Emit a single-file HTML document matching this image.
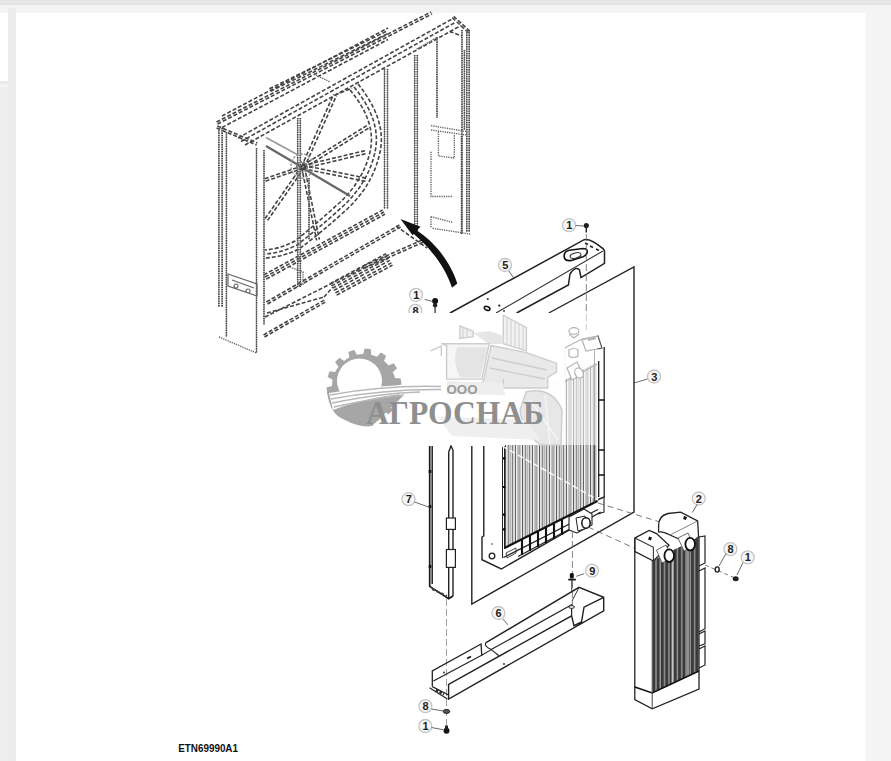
<!DOCTYPE html>
<html><head><meta charset="utf-8">
<style>
html,body{margin:0;padding:0;width:891px;height:761px;overflow:hidden;background:#fff;font-family:"Liberation Sans",sans-serif;}
#top1{position:absolute;left:0;top:0;width:891px;height:7px;background:linear-gradient(#dfdfdf 0px,#e9e9e9 1.5px,#e8e8e8 2.5px,#dfdfdf 4px,#f6f6f6 6px);}
#top2{position:absolute;left:0;top:7px;width:891px;height:6px;background:#f3f3f3;}
#lbox{position:absolute;left:0;top:13px;width:8px;height:68px;background:#fff;}
#lbot{position:absolute;left:0;top:81px;width:8px;height:680px;background:linear-gradient(#e9e9e9 0px,#e9e9e9 2.5px,#f3f3f3 3px,#f3f3f3 6px,#eeeeee 6.5px);}
#lcol{position:absolute;left:8px;top:8px;width:8px;height:753px;background:#ececec;}
#rcol{position:absolute;left:865px;top:8px;width:26px;height:753px;background:#f4f4f4;}
#rcol2{position:absolute;left:865px;top:15px;width:7px;height:746px;background:linear-gradient(90deg,#fafafa 0,#f3f3f3 1.5px,#f5f5f5 4px,#f6f6f6 6px,#f4f4f4 7px);}
svg{position:absolute;left:0;top:0;}
</style></head><body>
<div id="top1"></div><div id="top2"></div><div id="lbox"></div><div id="lbot"></div><div id="lcol"></div><div id="rcol"></div><div id="rcol2"></div>
<svg width="891" height="761" viewBox="0 0 891 761">
<g id="shroud" fill="none">
<path d="M222.0 116.0 L388.0 28.0" stroke="#444" stroke-width="1.6" stroke-dasharray="4 2"/>
<path d="M216.5 122.0 L431.1 11.9" stroke="#444" stroke-width="1.6" stroke-dasharray="4 2"/>
<path d="M217.5 124.0 L432.1 13.9" stroke="#444" stroke-width="1.6" stroke-dasharray="4 2"/>
<path d="M222.0 127.5 L388.0 39.5" stroke="#444" stroke-width="1.6" stroke-dasharray="4 2"/>
<path d="M269.4 88.8 L387.4 30.8" stroke="#444" stroke-width="1.6" stroke-dasharray="4 2"/>
<path d="M270.6 91.2 L388.6 33.2" stroke="#444" stroke-width="1.6" stroke-dasharray="4 2"/>
<path d="M238.0 138.0 L453.0 18.5" stroke="#444" stroke-width="1.6" stroke-dasharray="4 2"/>
<path d="M241.0 141.5 L456.0 22.0" stroke="#444" stroke-width="1.6" stroke-dasharray="4 2"/>
<path d="M245.0 145.0 L461.0 25.5" stroke="#444" stroke-width="1.6" stroke-dasharray="4 2"/>
<path d="M217.4 126.0 L257.4 143.0" stroke="#444" stroke-width="1.6" stroke-dasharray="4 2"/>
<path d="M216.6 128.0 L256.6 145.0" stroke="#444" stroke-width="1.6" stroke-dasharray="4 2"/>
<path d="M453.7 16.3 L470.5 31.8" stroke="#444" stroke-width="1.6" stroke-dasharray="4 2"/>
<path d="M452.3 17.7 L469.1 33.2" stroke="#444" stroke-width="1.6" stroke-dasharray="4 2"/>
<path d="M449.6 31.4 L462.0 36.0" stroke="#444" stroke-width="1.6" stroke-dasharray="4 2"/>
<path d="M263.8 274.9 L382.8 209.9" stroke="#444" stroke-width="1.6" stroke-dasharray="4 2"/>
<path d="M265.0 277.0 L384.0 212.0" stroke="#444" stroke-width="1.6" stroke-dasharray="4 2"/>
<path d="M266.2 279.1 L385.2 214.1" stroke="#444" stroke-width="1.6" stroke-dasharray="4 2"/>
<path d="M266.4 302.0 L399.4 225.0" stroke="#444" stroke-width="1.6" stroke-dasharray="4 2"/>
<path d="M267.6 304.0 L400.6 227.0" stroke="#444" stroke-width="1.6" stroke-dasharray="4 2"/>
<path d="M363.5 265.9 L422.5 239.9" stroke="#444" stroke-width="1.6" stroke-dasharray="4 2"/>
<path d="M364.5 268.1 L423.5 242.1" stroke="#444" stroke-width="1.6" stroke-dasharray="4 2"/>
<path d="M265.0 317.0 L364.0 267.0" stroke="#444" stroke-width="1.6" stroke-dasharray="4 2"/>
<path d="M330.2 283.6 L386.2 253.6" stroke="#444" stroke-width="1.6" stroke-dasharray="4 2"/>
<path d="M331.4 285.9 L387.4 255.9" stroke="#444" stroke-width="1.6" stroke-dasharray="4 2"/>
<path d="M332.6 288.1 L388.6 258.1" stroke="#444" stroke-width="1.6" stroke-dasharray="4 2"/>
<path d="M333.8 290.4 L389.8 260.4" stroke="#444" stroke-width="1.6" stroke-dasharray="4 2"/>
<path d="M335.4 292.9 L391.4 262.9" stroke="#444" stroke-width="1.6" stroke-dasharray="4 2"/>
<path d="M336.6 295.1 L392.6 265.1" stroke="#444" stroke-width="1.6" stroke-dasharray="4 2"/>
<path d="M396.0 226.0 L427.0 248.0" stroke="#444" stroke-width="1.6" stroke-dasharray="4 2"/>
<path d="M267.0 313.0 L324.0 297.0" stroke="#444" stroke-width="1.6" stroke-dasharray="4 2"/>
<path d="M263.5 335.0 L324.5 300.0" stroke="#444" stroke-width="1.6" stroke-dasharray="4 2"/>
<path d="M264.5 337.0 L325.5 302.0" stroke="#444" stroke-width="1.6" stroke-dasharray="4 2"/>
<path d="M324.0 297.0 L333.0 287.0" stroke="#444" stroke-width="1.6" stroke-dasharray="4 2"/>
<path d="M301.6 166.4 L333.6 94.4" stroke="#444" stroke-width="1.6" stroke-dasharray="4 2"/>
<path d="M304.4 167.6 L336.4 95.6" stroke="#444" stroke-width="1.6" stroke-dasharray="4 2"/>
<path d="M302.2 165.7 L368.2 124.7" stroke="#444" stroke-width="1.6" stroke-dasharray="4 2"/>
<path d="M303.8 168.3 L369.8 127.3" stroke="#444" stroke-width="1.6" stroke-dasharray="4 2"/>
<path d="M302.7 165.5 L365.7 150.5" stroke="#444" stroke-width="1.6" stroke-dasharray="4 2"/>
<path d="M303.3 168.5 L366.3 153.5" stroke="#444" stroke-width="1.6" stroke-dasharray="4 2"/>
<path d="M303.3 165.4 L367.3 178.4" stroke="#444" stroke-width="1.6" stroke-dasharray="4 2"/>
<path d="M302.7 168.6 L366.7 181.6" stroke="#444" stroke-width="1.6" stroke-dasharray="4 2"/>
<path d="M304.4 166.7 L319.4 239.7" stroke="#444" stroke-width="1.6" stroke-dasharray="4 2"/>
<path d="M301.6 167.3 L316.6 240.3" stroke="#444" stroke-width="1.6" stroke-dasharray="4 2"/>
<path d="M304.2 167.9 L267.2 220.9" stroke="#444" stroke-width="1.6" stroke-dasharray="4 2"/>
<path d="M301.8 166.1 L264.8 219.1" stroke="#444" stroke-width="1.6" stroke-dasharray="4 2"/>
<path d="M303.4 168.2 L265.4 181.2" stroke="#444" stroke-width="1.6" stroke-dasharray="4 2"/>
<path d="M302.6 165.8 L264.6 178.8" stroke="#444" stroke-width="1.6" stroke-dasharray="4 2"/>
<path d="M335.0 95.0 L352.0 88.0" stroke="#444" stroke-width="1.6" stroke-dasharray="4 2"/>
<path d="M358 84 Q387 120 380 152 Q373 186 345 211 Q321 233 299 249 Q283 257 265 258" stroke="#444" stroke-width="1.6" stroke-dasharray="4 2"/>
<path d="M354 87 Q382 121 375 152 Q368 184 341 208 Q318 229 297 245 Q281 253 265 254" stroke="#444" stroke-width="1.6" stroke-dasharray="4 2"/>
<path d="M350 90 Q377 122 370 152 Q363 182 337 205 Q315 225 295 241 Q280 249 265 250" stroke="#444" stroke-width="1.6" stroke-dasharray="4 2"/>
<path d="M218.9 128.0 V307.0" stroke="#9a9a9a" stroke-width="1"/>
<path d="M218.9 128.0 V307.0" stroke="#444" stroke-width="1.6" stroke-dasharray="1.3 1"/>
<path d="M222.1 128.0 V307.0" stroke="#9a9a9a" stroke-width="1"/>
<path d="M222.1 128.0 V307.0" stroke="#444" stroke-width="1.6" stroke-dasharray="1.3 1"/>
<path d="M226.4 132.0 V337.0" stroke="#9a9a9a" stroke-width="1"/>
<path d="M226.4 132.0 V337.0" stroke="#444" stroke-width="1.6" stroke-dasharray="1.3 1"/>
<path d="M256.5 148.0 V353.0" stroke="#9a9a9a" stroke-width="1"/>
<path d="M256.5 148.0 V353.0" stroke="#444" stroke-width="1.6" stroke-dasharray="1.3 1"/>
<path d="M264.0 150.0 V325.0" stroke="#9a9a9a" stroke-width="1"/>
<path d="M264.0 150.0 V325.0" stroke="#444" stroke-width="1.6" stroke-dasharray="1.3 1"/>
<path d="M297.7 118.0 V287.0" stroke="#9a9a9a" stroke-width="1"/>
<path d="M297.7 118.0 V287.0" stroke="#444" stroke-width="1.6" stroke-dasharray="1.3 1"/>
<path d="M300.3 118.0 V287.0" stroke="#9a9a9a" stroke-width="1"/>
<path d="M300.3 118.0 V287.0" stroke="#444" stroke-width="1.6" stroke-dasharray="1.3 1"/>
<path d="M384.5 69.0 V209.0" stroke="#9a9a9a" stroke-width="1"/>
<path d="M384.5 69.0 V209.0" stroke="#444" stroke-width="1.6" stroke-dasharray="1.3 1"/>
<path d="M387.5 69.0 V209.0" stroke="#9a9a9a" stroke-width="1"/>
<path d="M387.5 69.0 V209.0" stroke="#444" stroke-width="1.6" stroke-dasharray="1.3 1"/>
<path d="M414.7 55.0 V232.0" stroke="#9a9a9a" stroke-width="1"/>
<path d="M414.7 55.0 V232.0" stroke="#444" stroke-width="1.6" stroke-dasharray="1.3 1"/>
<path d="M417.3 55.0 V232.0" stroke="#9a9a9a" stroke-width="1"/>
<path d="M417.3 55.0 V232.0" stroke="#444" stroke-width="1.6" stroke-dasharray="1.3 1"/>
<path d="M437.0 37.0 V118.0" stroke="#9a9a9a" stroke-width="1"/>
<path d="M437.0 37.0 V118.0" stroke="#444" stroke-width="1.6" stroke-dasharray="1.3 1"/>
<path d="M464.4 50.0 V130.0" stroke="#9a9a9a" stroke-width="1"/>
<path d="M464.4 50.0 V130.0" stroke="#444" stroke-width="1.6" stroke-dasharray="1.3 1"/>
<path d="M461.5 136.0 V234.0" stroke="#9a9a9a" stroke-width="1"/>
<path d="M461.5 136.0 V234.0" stroke="#444" stroke-width="1.6" stroke-dasharray="1.3 1"/>
<path d="M462.0 30.0 V232.0" stroke="#9a9a9a" stroke-width="1"/>
<path d="M462.0 30.0 V232.0" stroke="#444" stroke-width="1.6" stroke-dasharray="1.3 1"/>
<path d="M466.8 30.0 V232.0" stroke="#9a9a9a" stroke-width="1"/>
<path d="M466.8 30.0 V232.0" stroke="#444" stroke-width="1.6" stroke-dasharray="1.3 1"/>
<path d="M469.2 30.0 V232.0" stroke="#9a9a9a" stroke-width="1"/>
<path d="M469.2 30.0 V232.0" stroke="#444" stroke-width="1.6" stroke-dasharray="1.3 1"/>
<path d="M219 337 L256.5 353" stroke="#666" stroke-width="1.4" stroke-dasharray="1.3 1"/>
<path d="M432.6 228.3 L470.2 234" stroke="#666" stroke-width="1.4" stroke-dasharray="1.3 1"/>
<path d="M431 125.6 L466 131.4" stroke="#666" stroke-width="1.4" stroke-dasharray="1.3 1"/>
<path d="M431 130 L466 135" stroke="#666" stroke-width="1.4" stroke-dasharray="1.3 1"/>
<path d="M438.4 131.4 V156 L454.3 158 V135" stroke="#666" stroke-width="1.4" stroke-dasharray="1.3 1"/>
<path d="M431 151.7 V196.5 L453 196.5" stroke="#666" stroke-width="1.4" stroke-dasharray="1.3 1"/>
<path d="M431 216.7 L453 222.5 M431 216.7 V228" stroke="#666" stroke-width="1.4" stroke-dasharray="1.3 1"/>
<path d="M416.7 49 L437 37.4" stroke="#666" stroke-width="1.4" stroke-dasharray="1.3 1"/>
<path d="M290 267 L303 272 V285" stroke="#666" stroke-width="1.4" stroke-dasharray="1.3 1"/>
<path d="M316 75 L330 82" stroke="#666" stroke-width="1.4" stroke-dasharray="1.3 1"/>
<path d="M228 274 L257 284 V296 L228 286 Z M232 280 L254 288 M236 284 a2 2 0 1 0 0.1 0 M248 289 a2 2 0 1 0 0.1 0" stroke="#666" stroke-width="1.2"/>
<path d="M266 146 L300 166" stroke="#666" stroke-width="2.2"/>
<path d="M306 170 L350 196" stroke="#666" stroke-width="2.2"/>
<circle cx="302" cy="167" r="5" stroke="#777" stroke-width="2" stroke-dasharray="2 1"/>
<ellipse cx="302" cy="166" rx="11" ry="12" stroke="#8a8a8a" stroke-width="1.3" stroke-dasharray="2.5 1.5"/>
<path d="M266 137.5 L298 155" stroke="#999" stroke-width="1.6"/>
<path d="M309.0 178.0 V240.0" stroke="#9a9a9a" stroke-width="1"/>
<path d="M309.0 178.0 V240.0" stroke="#444" stroke-width="1.6" stroke-dasharray="1.3 1"/>
</g>
<g id="parts" fill="none">
<defs>
<pattern id="fins" patternUnits="userSpaceOnUse" width="3.4" height="10" x="505" y="0">
<rect x="0" y="0" width="3.4" height="10" fill="#f2f2f2"/>
<rect x="0" y="0" width="0.85" height="10" fill="#4a4a4a"/>
<rect x="1.8" y="0" width="0.7" height="10" fill="#a8a8a8"/>
</pattern>
<pattern id="cfins" patternUnits="userSpaceOnUse" width="4.3" height="10" x="652.4" y="0">
<rect x="0" y="0" width="4.3" height="10" fill="#3a3a3a"/>
<rect x="3.0" y="0" width="1.1" height="10" fill="#b5b5b5"/>
</pattern>
</defs>
<!-- panel 3 gasket sheet -->
<path d="M548.8 313 L634 267 V512 L471.8 604 V446" stroke="#222" stroke-width="1.4"/>
<!-- part 5 beam -->
<path d="M450 313 L584.2 239.7 Q590 238 603 248.6 L604.5 250.8 V263.4 L581 277.6 L579.4 269.7 Q575 266 570 274 L568.4 285 L516.5 313" stroke="#222" stroke-width="1.5"/>
<path d="M496 313 L603 251" stroke="#333" stroke-width="1.1"/>
<path d="M564.2 255 Q565 251 569.4 250.3 L583 248.5 Q587.5 248.5 587.3 252 Q586.5 255.5 583 256.8 L571.5 260.4 Q565 261.5 564.2 257 Z" stroke="#111" stroke-width="1.6"/>
<ellipse cx="575.5" cy="255.5" rx="5.5" ry="2.6" transform="rotate(-15 575.5 255.5)" stroke="#333" stroke-width="1.1"/>
<path d="M585 243 L588 244.5 M590 246 L593 247.5 M596 249 L599 250.5" stroke="#222" stroke-width="1.6"/>
<circle cx="487.8" cy="299" r="1" fill="#333"/><circle cx="499.3" cy="305.7" r="1.1" fill="#222"/><circle cx="504" cy="311" r="0.9" fill="#333"/>
<ellipse cx="487.1" cy="308.4" rx="3" ry="1.8" transform="rotate(25 487.1 308.4)" stroke="#111" stroke-width="1.5"/>
<!-- radiator fins -->
<polygon points="505,380 564,380 597,362 597,501.4 505,548" fill="url(#fins)" stroke="none"/>
<path d="M483.8 446 V535.8 L482 537 V559.7 L501.3 569 L600.7 512" stroke="#222" stroke-width="1.4"/>
<path d="M502.5 446 V558 M504.5 446 V549" stroke="#222" stroke-width="1"/>
<path d="M503 458.4 h2.5 M503 487 h2.5 M503 514.6 h2.5 M503 529.3 h2.5" stroke="#111" stroke-width="2.2"/>
<path d="M504.5 548 L597.5 501" stroke="#111" stroke-width="2.2"/>
<path d="M503.5 557.5 L598 509.5" stroke="#222" stroke-width="1.3"/>
<path d="M518 556.5 L569 529.5" stroke="#222" stroke-width="1.3"/>
<path d="M522 540 V555 M530 536 V551 M538 532 V547 M546 528 V543 M554 524 V539 M562 520 V535" stroke="#111" stroke-width="2.1"/>
<path d="M506 553 L516 548 V553 L507 558 Z" stroke="#333" stroke-width="0.9"/>
<circle cx="492" cy="556" r="2.8" stroke="#222" stroke-width="1.3"/>
<circle cx="492" cy="544" r="0.8" fill="#333"/>
<path d="M594.5 345 V503" stroke="#444" stroke-width="0.9"/>
<path d="M598.7 361 V497 M604.2 347 V497 L598.7 499" stroke="#222" stroke-width="1.3"/>
<path d="M598.7 400 h5.5 M598.7 450 h5.5 M598.7 475 h5.5" stroke="#111" stroke-width="1.6"/>

<path d="M596 501 L604 497 V512 L598 514" stroke="#222" stroke-width="1.1"/>
<!-- radiator top (in watermark) -->
<g stroke="#555" stroke-width="1.2" fill="none">
<path d="M564.5 382 V348 L581.8 339 L598 336"/>
<path d="M564.5 382 L597 364"/>
<ellipse cx="573.9" cy="331" rx="5" ry="3.3" fill="#fff"/>
<path d="M569 334 L573.9 338 L579 334"/>
<path d="M569 350 V356 Q573.5 359 578 356 V350 Q573.5 347 569 350 Z" fill="#fff"/>
<path d="M567 368 L577 362 L583 374 L572 380 Z" fill="#fff"/>
<ellipse cx="579" cy="373" rx="4" ry="5.3" fill="#fff" transform="rotate(-25 579 373)"/>
<path d="M582 340 L598 336 L602 348 L586 351 Z" fill="#fff"/>
<path d="M588 340 L596 338" stroke-width="2.2"/>
</g>
<!-- outlet pipe -->
<path d="M569 517 L584 509 L592 514 V525 L577 533 L569 530 Z" fill="#fff" stroke="#222" stroke-width="1.1"/>
<path d="M576 518 L585 516 L587 528 L578 531 Z" fill="#fff" stroke="#222" stroke-width="1"/>
<ellipse cx="586" cy="523" rx="4.2" ry="5.2" fill="#fff" stroke="#111" stroke-width="1.5"/>
<!-- dashed leader lines -->
<path d="M502 446 L598 500" stroke="#fff" stroke-width="1.6" stroke-dasharray="6 3" opacity="0.85"/>
<path d="M598 503 L660 522" stroke="#555" stroke-width="0.8" stroke-dasharray="6 4"/>
<path d="M588 527 L634 548" stroke="#555" stroke-width="0.8" stroke-dasharray="6 4"/>
<path d="M586.3 234 V330" stroke="#666" stroke-width="0.8" stroke-dasharray="7 3"/>
<path d="M572.4 531 V610" stroke="#666" stroke-width="0.8" stroke-dasharray="7 3"/>
<path d="M446.5 599 V725" stroke="#888" stroke-width="0.8" stroke-dasharray="7 3"/>
<path d="M705 565 L735 578" stroke="#555" stroke-width="0.8" stroke-dasharray="4 3"/>
<!-- bolt 1 top -->
<circle cx="586.3" cy="225.5" r="2.6" fill="#222"/>
<path d="M586.3 227 V232.5" stroke="#222" stroke-width="1.4"/>
<!-- part 7 side strip -->
<path d="M429.7 446 V586.4 L448.7 598.7 L453 596" stroke="#1a1a1a" stroke-width="1.7"/>
<path d="M432.2 446 V584" stroke="#222" stroke-width="1.5"/>
<path d="M448.7 452 V598 M453 450 V596 M448.7 452 L451 446 L453 450" stroke="#222" stroke-width="1.4"/>
<rect x="446.4" y="518" width="9" height="11.4" fill="#fff" stroke="#222" stroke-width="1.2"/>
<rect x="446.4" y="549.5" width="9" height="17.9" fill="#fff" stroke="#222" stroke-width="1.2"/>
<path d="M430 470 V473 M430 505 V508 M430 565 V568" stroke="#111" stroke-width="2.6"/>
<path d="M432 589 L447 596" stroke="#444" stroke-width="2" stroke-dasharray="3 2"/>
<!-- part 6 trough -->
<path d="M432.3 686.6 V671 L481.1 644 L481.7 655.2 L433.4 681" stroke="#222" stroke-width="1.3"/>
<path d="M481.7 655.2 L491.2 649.6 M485.6 642.9 Q484 646 491.2 649.6 L499 655.8" stroke="#222" stroke-width="1.1"/>
<path d="M485.6 642.9 L579 587.4 L603.7 597.3 V610.9 L448.6 699 V684.4 L571.6 615.8 L574 625.7 L581.5 622 L584 607.2 L603.7 597.3" stroke="#222" stroke-width="1.4"/>
<path d="M491.2 649.6 L571.6 604.7 V615.8" stroke="#222" stroke-width="1.2"/>
<path d="M579 587.4 L572 601" stroke="#333" stroke-width="1"/>
<path d="M429.5 687.7 L447.4 699 M432.3 686.6 L448.6 695" stroke="#222" stroke-width="1.2"/>
<path d="M436 690 L444 694.5" stroke="#222" stroke-width="2.2" stroke-dasharray="2.5 1.5"/>
<path d="M467 658.5 L471 656.5" stroke="#111" stroke-width="1.8"/>
<circle cx="444" cy="672.5" r="0.9" fill="#222"/><circle cx="504" cy="664" r="0.9" fill="#222"/>
<ellipse cx="571.6" cy="607" rx="2.8" ry="1.4" fill="#fff" stroke="#222" stroke-width="1"/>
<!-- cooler part 2 -->
<polygon points="652.4,561 669,552 698.7,538 698.7,671 652.4,693" fill="url(#cfins)"/>
<path d="M672.2 553 V684 M688 545 V676" stroke="#e8e8e8" stroke-width="1"/>
<path d="M634.8 538 V699.7 L652.2 708.8 L699 689.1 V536.8" stroke="#222" stroke-width="1.3"/>
<path d="M634.8 686.9 L652.2 692.9 L699 671" stroke="#111" stroke-width="1.6"/>
<path d="M652.2 561 V708.8" stroke="#444" stroke-width="1"/>
<path d="M635 537.9 L649.2 530.5 L656.5 533.6 L669 545.2 L653.4 561 L635 551.5 Z" fill="#fff" stroke="#222" stroke-width="1.3"/>
<path d="M635 537.9 L653.4 547.3 V561" stroke="#333" stroke-width="1.1"/>
<path d="M658.6 526.3 Q658 516 668 513.5 L680.7 512.1 L697.6 521 L698.6 536.8 L690 544 L670 535 Q662 531 658.6 532 Z" fill="#fff" stroke="#222" stroke-width="1.3"/>
<path d="M670 535 L697.6 521" stroke="#666" stroke-width="0.8"/>
<path d="M656.5 550 L666 545 L672 558 L662 563 Z" fill="#fff" stroke="#444" stroke-width="0.8"/>
<path d="M678 538 L688 533 L694 546 L684 551 Z" fill="#fff" stroke="#444" stroke-width="0.8"/>
<ellipse cx="669.2" cy="555.7" rx="4.8" ry="6.3" fill="#fff" stroke="#111" stroke-width="1.8"/>
<ellipse cx="690.2" cy="544.2" rx="4.8" ry="6.3" fill="#fff" stroke="#111" stroke-width="1.8"/>
<path d="M699 537 L705 536 V563 L699 566 M699 571 L705 568 V628.7 L699 632 M699 634 L705 631 V643.8 L699 646 M699 649 L705 646 V665 L699 668" stroke="#222" stroke-width="1.2"/>
<rect x="648.5" y="537" width="3" height="3" fill="#111" transform="rotate(20 650 538.5)"/>
<rect x="683.5" y="516.5" width="3" height="3" fill="#111" transform="rotate(20 685 518)"/>
<!-- small hardware -->
<ellipse cx="717.2" cy="569.5" rx="2" ry="2.6" stroke="#222" stroke-width="1.4"/>
<ellipse cx="735.7" cy="578.8" rx="3" ry="2.5" fill="#222"/>
<rect x="569.8" y="573" width="4" height="5.5" rx="1.5" fill="#111"/>
<path d="M568.3 579.6 H575.8" stroke="#111" stroke-width="1.8"/>
<path d="M571.8 580 V592.5" stroke="#333" stroke-width="1"/>
<ellipse cx="446.5" cy="711.4" rx="3.2" ry="2" fill="#555" stroke="#222" stroke-width="1"/>
<circle cx="446.5" cy="730.7" r="3" fill="#111"/><rect x="445" y="725.5" width="3" height="4" fill="#222"/>
<circle cx="435.1" cy="301" r="3" fill="#111"/><circle cx="435.1" cy="305.3" r="2.2" fill="#222"/>
<path d="M435.1 306 V313.5" stroke="#333" stroke-width="1.3"/>
</g>
<g font-family="Liberation Sans" font-size="11" font-weight="bold" fill="#222" text-anchor="middle">
<g stroke="#c4c4c4" stroke-width="1.3" fill="#f6f6f6">
<circle cx="569.0" cy="225.2" r="6.5"/>
<circle cx="505.0" cy="265.0" r="6.5"/>
<circle cx="654.0" cy="376.5" r="6.5"/>
<circle cx="408.5" cy="499.2" r="6.5"/>
<circle cx="592.0" cy="570.7" r="6.5"/>
<circle cx="498.4" cy="613.0" r="6.5"/>
<circle cx="698.7" cy="498.5" r="6.5"/>
<circle cx="730.4" cy="549.1" r="6.5"/>
<circle cx="747.7" cy="557.4" r="6.5"/>
<circle cx="425.4" cy="706.1" r="6.5"/>
<circle cx="425.3" cy="726.0" r="6.5"/>
<circle cx="416.0" cy="294.8" r="6.5"/>
<circle cx="415.4" cy="310.9" r="6.5"/>
</g>
<text x="569.2" y="229.2">1</text>
<text x="505.2" y="269.0">5</text>
<text x="654.2" y="380.5">3</text>
<text x="408.7" y="503.2">7</text>
<text x="592.2" y="574.7">9</text>
<text x="498.6" y="617.0">6</text>
<text x="698.9" y="502.5">2</text>
<text x="730.6" y="553.1">8</text>
<text x="747.9" y="561.4">1</text>
<text x="425.6" y="710.1">8</text>
<text x="425.5" y="730.0">1</text>
<text x="416.2" y="298.8">1</text>
<text x="415.6" y="314.9">8</text>
<g stroke="#444" stroke-width="0.8" fill="none">
<path d="M575.5 225.5 L583.6 226"/><path d="M509 271 L514 278.5"/>
<path d="M647.5 379 L634 383"/><path d="M414.5 502 L428.5 507"/>
<path d="M584.2 573.7 L576.3 576.3"/><path d="M503 619 L507.8 624.8"/>
<path d="M697 504.5 L692.5 512.4"/><path d="M726 553.5 L719 566"/>
<path d="M743 562.5 L737 575"/><path d="M431.5 709 L443 711"/>
<path d="M431.5 727.5 L443 729.7"/><path d="M424.6 299.4 L432 301.3"/>
</g>
</g>
<g id="wm">
<rect x="322" y="313" width="243" height="132" fill="#fff" opacity="0.98"/>
<rect x="565" y="313" width="32.5" height="132" fill="#fff" opacity="0.55"/>
<g fill="#e8e8e8" stroke="#cdcdcd" stroke-width="1.4">
<path d="M503.3 315.3 L526.4 327.7 V350.8 L503.3 343.7 Z" fill="#f2f2f2"/>
<path d="M459.9 326 L473.2 331.3 V336.6 L459.9 338.4 Z" fill="#f0f0f0"/>
<path d="M473.2 333 L490 331 L503.3 336 L503.3 344 L489 344 Z" fill="#e6e6e6" stroke="none"/>
<path d="M441.3 343.7 L489.1 343.7 L482 379.1 L446.6 379.1 L446.6 345.5 Z" fill="#f6f6f6"/>
<path d="M457.2 347.2 L487.4 347.2 L480.3 377.4 L460 377.4 Q452 362 457.2 347.2 Z" fill="#e4e4e4" stroke="none"/>
<path d="M430.6 350.8 L441.3 346 L441.3 356" fill="none"/>
<path d="M491 345.5 L526.4 352.6 L556.5 363.2 V372 L547.7 377.4 V388 L503.3 388 L482 384 L484 379 Z" fill="#e9e9e9"/>
<path d="M492 358 L547 370 M490 368 L545 379 M503.3 388 V379" fill="none"/>
<path d="M447 381 L503 383 L505 395 L447 394 Z" fill="#eeeeee" stroke="none"/>
<path d="M526 392 Q552 386 562 410 L561 445 L540 445 Q522 430 520 410 Z" fill="#e7e7e7"/>
<path d="M530 400 L558 440 M545 395 L550 445" fill="none" stroke="#f6f6f6" stroke-width="1.5"/>
<path d="M437.7 416.4 L526.4 420 L540 440 L452 436 Z" fill="#efefef" stroke="none"/>
</g>
<g stroke="#d2d2d2" stroke-width="1.1" fill="none">
<path d="M507 317.5 V345 M511 319.6 V346.2 M515 321.8 V347.4 M519 324 V348.6 M523 326 V349.8"/>
<path d="M463 327.5 V338 M467 329 V337.5"/>
</g>
<path d="M395.8 389.2 L395.4 392.3 L400.4 395.0 L398.5 400.8 L392.8 399.9 L391.3 402.7 L389.5 405.3 L392.9 409.9 L388.6 414.3 L383.9 411.0 L381.4 412.9 L378.6 414.5 L379.6 420.1 L373.9 422.2 L371.1 417.2 L368.0 417.8 L364.8 418.0 L363.3 423.5 L357.3 422.9 L356.8 417.2 L353.8 416.3 L350.9 415.2 L347.1 419.5 L341.9 416.3 L344.0 411.0 L341.7 408.9 L339.5 406.6 L334.2 408.8 L331.0 403.7 L335.2 399.8 L333.9 396.9 L333.0 393.9 L327.3 393.6 L326.5 387.6 L332.0 386.0 L332.2 382.8 L332.6 379.7 L327.6 377.0 L329.5 371.2 L335.2 372.1 L336.7 369.3 L338.5 366.7 L335.1 362.1 L339.4 357.7 L344.1 361.0 L346.6 359.1 L349.4 357.5 L348.4 351.9 L354.1 349.8 L356.9 354.8 L360.0 354.2 L363.2 354.0 L364.7 348.5 L370.7 349.1 L371.2 354.8 L374.2 355.7 L377.1 356.8 L380.9 352.5 L386.1 355.7 L384.0 361.0 L386.3 363.1 L388.5 365.4 L393.8 363.2 L397.0 368.3 L392.8 372.2 L394.1 375.1 L395.0 378.1 L400.7 378.4 L401.5 384.4 L396.0 386.0 Z M382.0 381.0 A22.5 22.5 0 1 0 337.0 381.0 A22.5 22.5 0 1 0 382.0 381.0 Z" fill="#a6a6a6" fill-rule="evenodd"/>
<path d="M327 392 Q330 415 345 420 Q360 428 372 426 L403 396 L360 392 Z" fill="#a6a6a6"/>
<path d="M329 393 Q385 383 441 385 L441 392 Q380 392 333 410 Z" fill="#fff"/>
<path d="M330 395 Q385 385 441 386.5" stroke="#b9b9b9" stroke-width="1.6" fill="none"/>
<path d="M331 399 Q385 389 441 389.5" stroke="#b9b9b9" stroke-width="1.6" fill="none"/>
<path d="M332 403 Q383 393 420 392" stroke="#b9b9b9" stroke-width="1.6" fill="none"/>
<path d="M334 407 Q380 397 404 395" stroke="#b9b9b9" stroke-width="1.6" fill="none"/>
<text x="446.5" y="393.5" font-family="Liberation Sans" font-weight="bold" font-size="13.5" fill="#9a9a9a" textLength="31" lengthAdjust="spacingAndGlyphs">ООО</text>
<text x="366" y="424" font-family="Liberation Serif" font-weight="bold" font-size="33" fill="#8f8f8f" textLength="178" lengthAdjust="spacingAndGlyphs">АГРОСНАБ</text>
</g>
<path d="M400.5 218.9 L420.5 226.8 L416.8 230.6 C432 240 450 260 457.3 283.6 L452 287.8 C445 266 430 248 413.8 234 L412.6 235.2 Z" fill="#111"/>

<text x="178.2" y="751.5" font-family="Liberation Sans" font-weight="bold" font-size="10.2" fill="#111" textLength="59.8" lengthAdjust="spacingAndGlyphs">ETN69990A1</text>
</svg>
</body></html>
